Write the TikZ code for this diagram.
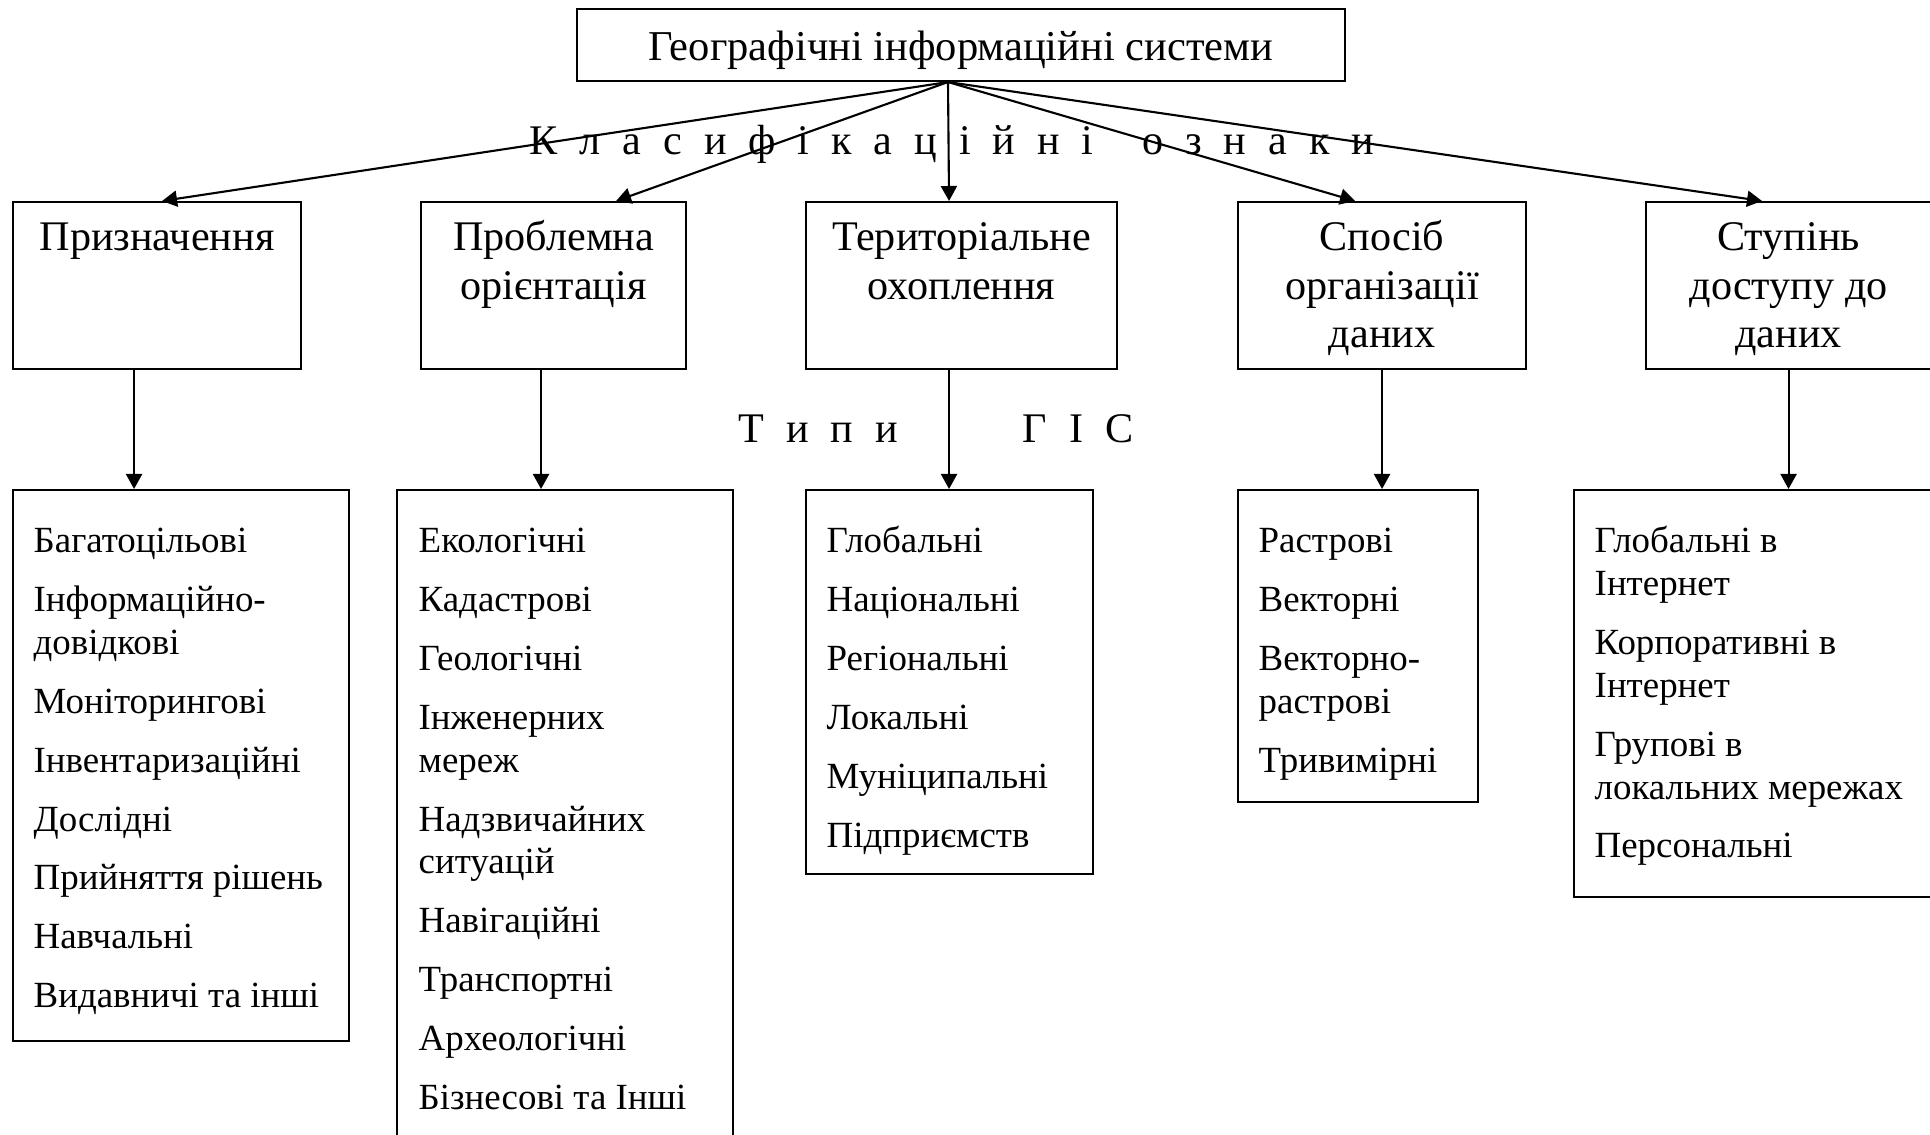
\documentclass[tikz,border=0pt]{standalone}
\usepackage{fontspec}
\setmainfont{Liberation Serif}
\usetikzlibrary{arrows.meta}

\begin{document}
\begin{tikzpicture}[
    box/.style={draw, line width=0.6pt, inner sep=0pt, anchor=north west},
    arr/.style={line width=0.6pt, -{Triangle[length=1.5mm,width=1.6mm]}},
    head/.style={inner sep=0pt, anchor=north, align=center, font=\fontsize{12}{13.8}\selectfont},
    list/.style={inner sep=0pt, anchor=north west, align=left, font=\fontsize{10.5}{12.2}\selectfont},
    note/.style={inner sep=0pt, anchor=base west, font=\fontsize{12}{13.8}\selectfont}]
    \useasboundingbox (0,0) rectangle (19.30,-11.35);

    \node[draw, line width=0.6pt, minimum width=7.68cm, minimum height=0.72cm,
          font=\fontsize{12.1}{13.9}\selectfont] (gis) at (9.61,-0.45)
          {\raisebox{-0.5mm}[\height][\depth]{Географічні інформаційні системи}};
    \coordinate (hub) at ([xshift=-0.13cm]gis.south);

    % classification features
    \node[box, minimum width=2.88cm, minimum height=1.67cm] (mid1) at (0.12,-2.01) {};
    \node[box, minimum width=2.65cm, minimum height=1.67cm] (mid2) at (4.20,-2.01) {};
    \node[box, minimum width=3.11cm, minimum height=1.67cm] (mid3) at (8.05,-2.01) {};
    \node[box, minimum width=2.88cm, minimum height=1.67cm] (mid4) at (12.37,-2.01) {};
    \node[box, minimum width=2.85cm, minimum height=1.67cm] (mid5) at (16.45,-2.01) {};
    \node[head] (mid1t) at ([yshift=-0.15cm]mid1.north) {\strut Призначення};
    \node[head] (mid2t) at ([yshift=-0.15cm]mid2.north) {\strut Проблемна\\орієнтація};
    \node[head] (mid3t) at ([yshift=-0.15cm]mid3.north) {\strut Територіальне\\охоплення};
    \node[head] (mid4t) at ([yshift=-0.15cm]mid4.north) {\strut Спосіб\\організації\\даних};
    \node[head] (mid5t) at ([yshift=-0.15cm]mid5.north) {\strut Ступінь\\доступу до\\даних};

    % types
    \node[box, minimum width=3.36cm, minimum height=5.51cm] (low1) at (0.12,-4.89) {};
    \node[box, minimum width=3.36cm, minimum height=6.80cm] (low2) at (3.96,-4.89) {};
    \node[box, minimum width=2.87cm, minimum height=3.84cm] (low3) at (8.05,-4.89) {};
    \node[box, minimum width=2.40cm, minimum height=3.12cm] (low4) at (12.37,-4.89) {};
    \node[box, minimum width=3.67cm, minimum height=4.07cm] (low5) at (15.73,-4.89) {};
    \node[list] (low1t) at ([xshift=0.21cm,yshift=-0.33cm]low1.north west) {\strut Багатоцільові\\[1.6mm]
        Інформаційно-\\довідкові\\[1.6mm] Моніторингові\\[1.6mm] Інвентаризаційні\\[1.6mm]
        Дослідні\\[1.6mm] Прийняття рішень\\[1.6mm] Навчальні\\[1.6mm] Видавничі та інші};
    \node[list] (low2t) at ([xshift=0.22cm,yshift=-0.33cm]low2.north west) {\strut Екологічні\\[1.6mm]
        Кадастрові\\[1.6mm] Геологічні\\[1.6mm] Інженерних\\мереж\\[1.6mm] Надзвичайних\\ситуацій\\[1.6mm]
        Навігаційні\\[1.6mm] Транспортні\\[1.6mm] Археологічні\\[1.6mm] Бізнесові та Інші};
    \node[list] (low3t) at ([xshift=0.21cm,yshift=-0.33cm]low3.north west) {\strut Глобальні\\[1.6mm]
        Національні\\[1.6mm] Регіональні\\[1.6mm] Локальні\\[1.6mm] Муніципальні\\[1.6mm] Підприємств};
    \node[list] (low4t) at ([xshift=0.21cm,yshift=-0.33cm]low4.north west) {\strut Растрові\\[1.6mm]
        Векторні\\[1.6mm] Векторно-\\растрові\\[1.6mm] Тривимірні};
    \node[list] (low5t) at ([xshift=0.21cm,yshift=-0.33cm]low5.north west) {\strut Глобальні в\\Інтернет\\[1.6mm]
        Корпоративні в\\Інтернет\\[1.6mm] Групові в\\локальних мережах\\[1.6mm] Персональні};

    \node[note] (feat) at (5.29,-1.55) {\spaceskip=0.52em\relax К л а с и ф і к а ц і й н і\hspace{1.16em}о з н а к и};
    \node[note] (kind) at (7.38,-4.43) {\spaceskip=0.52em\relax Т и п и\hspace{2.96em}Г І С};

    \foreach \i/\dx in {1/0.05,2/0.625,3/-0.125,4/-0.27,5/-0.265}
        \draw[arr] (hub) -- ([xshift=\dx cm]mid\i.north);
    \foreach \i/\dx in {1/-0.23,2/-0.125,3/-0.125,4/0,5/0}
        \draw[arr] ([xshift=\dx cm]mid\i.south) -- ([xshift=\dx cm]mid\i.south |- low\i.north);
\end{tikzpicture}
\end{document}
